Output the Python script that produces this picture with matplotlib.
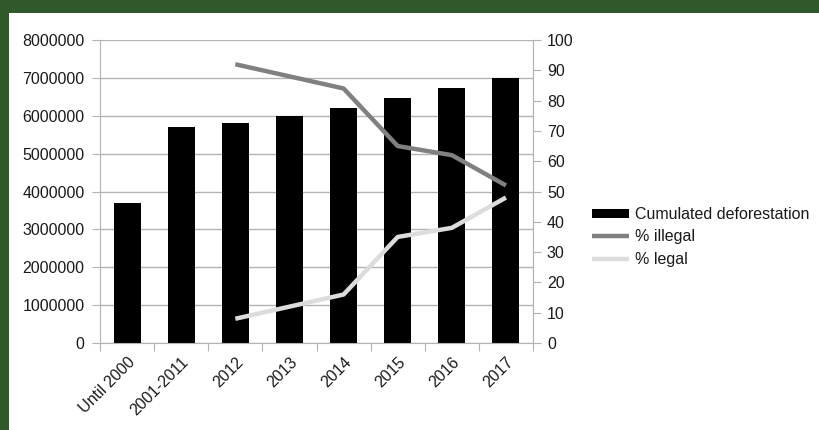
import numpy as np
import matplotlib.pyplot as plt
from matplotlib.patches import Rectangle

plt.rcParams['font.family'] = ['Liberation Sans', 'DejaVu Sans']

categorias = ["Until 2000", "2001-2011", "2012", "2013", "2014", "2015", "2016", "2017"]
desmatamento = [3700000, 5700000, 5810000, 5990000, 6210000, 6460000, 6740000, 7000000]
pct_ilegal = [np.nan, np.nan, 92, 88, 84, 65, 62, 52]
pct_legal = [np.nan, np.nan, 8, 12, 16, 35, 38, 48]

COR_TEXTO = '#1a1a1a'
COR_GRADE = '#b3b3b3'
FS = 11.5

fig = plt.figure(figsize=(8.2, 4.3), dpi=100)
fig.patch.set_facecolor('#30592b')
# painel branco dentro da moldura verde
fig.patches.append(Rectangle((9 / 820, 0), 1 - 9 / 820, (430 - 13) / 430,
                             transform=fig.transFigure, facecolor='white',
                             edgecolor='none', zorder=-1))

ax = fig.add_axes([100 / 820, 1 - 343 / 430, 433 / 820, 303 / 430])
ax.set_facecolor('none')
x = np.arange(len(categorias))

barras = ax.bar(x, desmatamento, width=0.5, color='black',
                label='Cumulated deforestation', zorder=2)
ax.set_xlim(-0.5, len(categorias) - 0.5)
ax.set_ylim(0, 8000000)
ax.set_yticks(np.arange(0, 8000001, 1000000))
ax.set_yticklabels([f'{int(v)}' for v in np.arange(0, 8000001, 1000000)])
ax.yaxis.grid(True, color=COR_GRADE, linewidth=1)
ax.set_axisbelow(True)

# ticks do eixo x entre as categorias, rotulos no centro
ax.set_xticks(np.arange(-0.5, len(categorias), 1))
ax.set_xticklabels([])
ax.set_xticks(x, minor=True)
ax.set_xticklabels(categorias, minor=True, rotation=45, ha='right',
                   rotation_mode='anchor', fontsize=FS, color=COR_TEXTO)
ax.tick_params(axis='x', which='major', length=6, color=COR_GRADE)
ax.tick_params(axis='x', which='minor', length=0, pad=8)
ax.tick_params(axis='y', length=6, color=COR_GRADE, labelsize=FS,
               labelcolor=COR_TEXTO, pad=5)

for lado in ['top']:
    ax.spines[lado].set_visible(False)
for lado in ['left', 'bottom', 'right']:
    ax.spines[lado].set_color(COR_GRADE)

ax2 = ax.twinx()
l1, = ax2.plot(x, pct_ilegal, color='#808080', linewidth=3.2,
               solid_capstyle='butt', label='% illegal', zorder=3)
l2, = ax2.plot(x, pct_legal, color='#dcdcdc', linewidth=3.2,
               solid_capstyle='butt', label='% legal', zorder=3)
ax2.set_ylim(0, 100)
ax2.set_yticks(np.arange(0, 101, 10))
ax2.tick_params(axis='y', length=6, color=COR_GRADE, labelsize=FS,
                labelcolor=COR_TEXTO, pad=4)
for lado in ['top', 'left', 'bottom']:
    ax2.spines[lado].set_visible(False)
ax2.spines['right'].set_color(COR_GRADE)

fig.legend([barras, l1, l2],
           ['Cumulated deforestation', '% illegal', '% legal'],
           loc='center left', bbox_to_anchor=(592 / 820, 1 - 237 / 430),
           frameon=False, fontsize=FS, borderpad=0, borderaxespad=0,
           handlelength=2.3, handleheight=0.5, handletextpad=0.4,
           labelspacing=0.45, labelcolor=COR_TEXTO)

fig.savefig('out.png', dpi=100, facecolor=fig.get_facecolor())
